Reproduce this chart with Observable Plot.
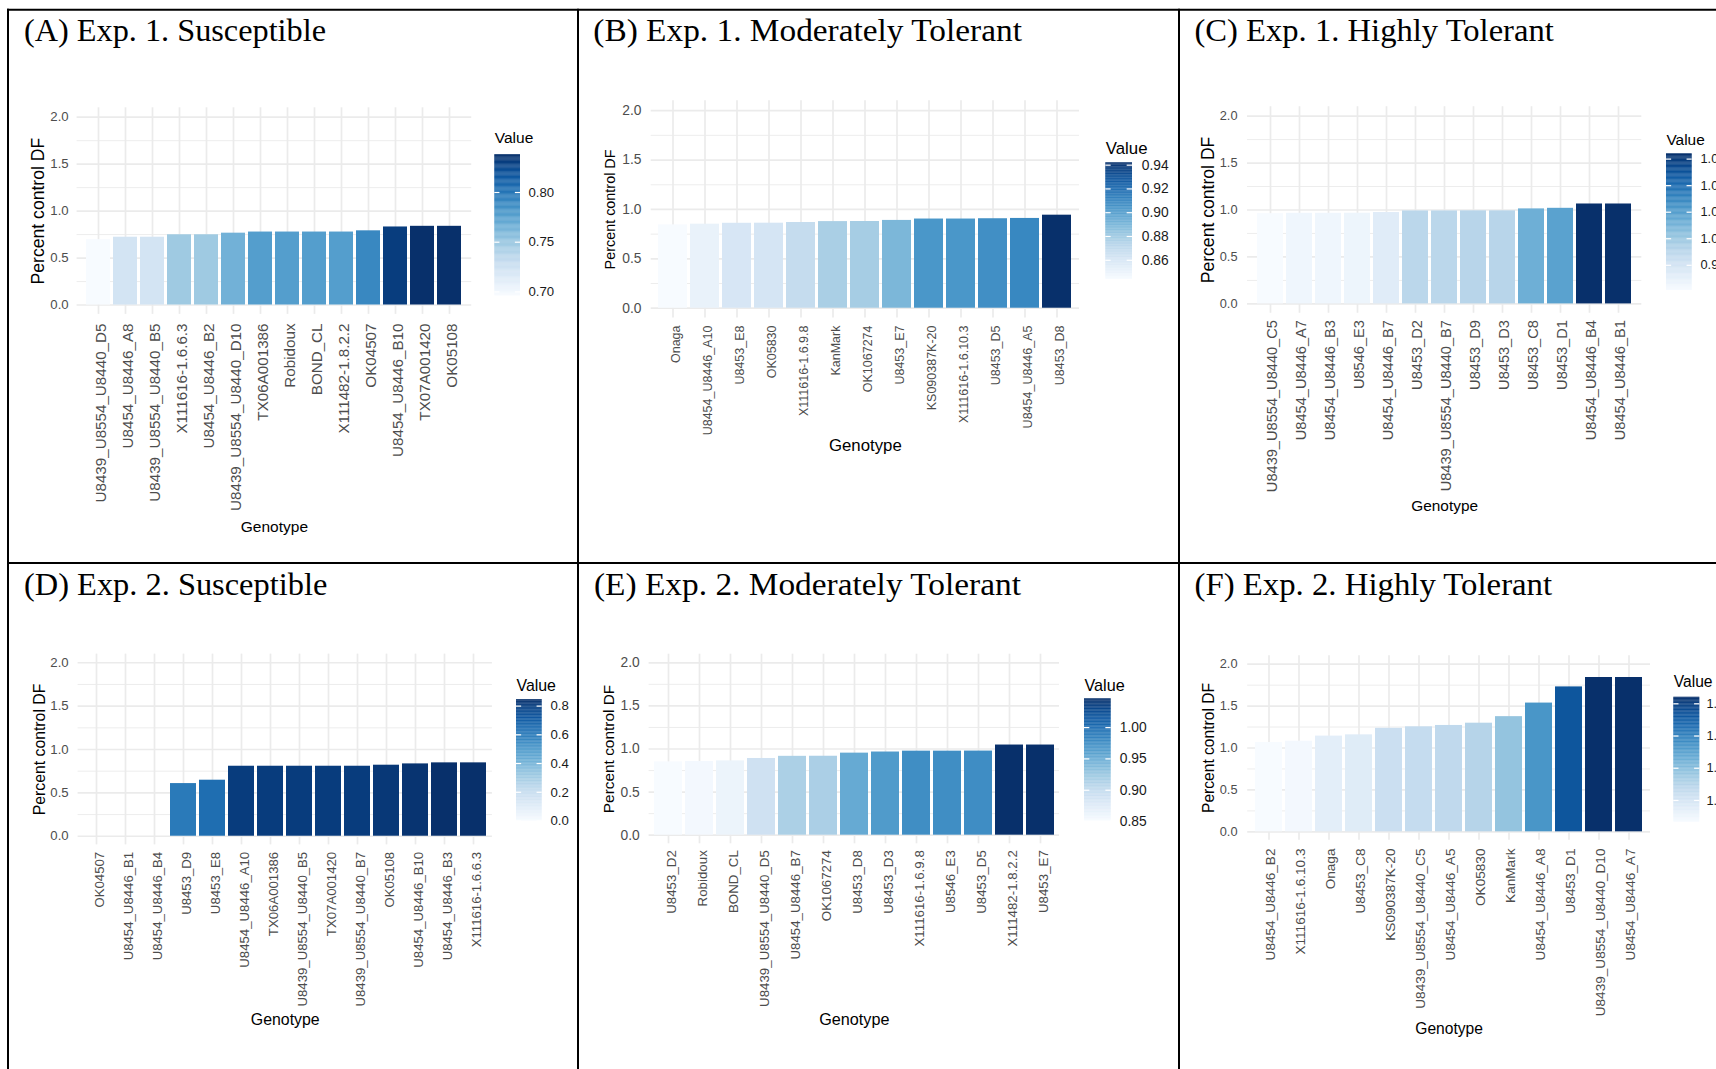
<!DOCTYPE html>
<html>
<head>
<meta charset="utf-8">
<script src="https://cdn.jsdelivr.net/npm/d3@7"></script>
<script src="https://cdn.jsdelivr.net/npm/@observablehq/plot@0.6"></script>
<style>
  html, body { margin: 0; padding: 0; background: #fff; overflow: hidden; }
  #fig { position: relative; width: 1716px; height: 1069px; overflow: hidden; background: #fff; }
  #fig svg { position: absolute; }
</style>
</head>
<body>
<div id="fig"></div>
<script>
// ---- Percent control DF by genotype, six panels ----
const genotypesA = ["U8439_U8554_U8440_D5", "U8454_U8446_A8", "U8439_U8554_U8440_B5", "X111616-1.6.6.3", "U8454_U8446_B2", "U8439_U8554_U8440_D10", "TX06A001386", "Robidoux", "BOND_CL", "X111482-1.8.2.2", "OK04507", "U8454_U8446_B10", "TX07A001420", "OK05108"];
const valuesA = [0.696, 0.722, 0.722, 0.748, 0.748, 0.765, 0.777, 0.777, 0.777, 0.777, 0.790, 0.831, 0.838, 0.838];

const genotypesB = ["Onaga", "U8454_U8446_A10", "U8453_E8", "OK05830", "X111616-1.6.9.8", "KanMark", "OK1067274", "U8453_E7", "KS090387K-20", "X111616-1.6.10.3", "U8453_D5", "U8454_U8446_A5", "U8453_D8"];
const valuesB = [0.844, 0.851, 0.860, 0.861, 0.868, 0.877, 0.878, 0.889, 0.903, 0.903, 0.906, 0.909, 0.942];

const genotypesC = ["U8439_U8554_U8440_C5", "U8454_U8446_A7", "U8454_U8446_B3", "U8546_E3", "U8454_U8446_B7", "U8453_D2", "U8439_U8554_U8440_B7", "U8453_D9", "U8453_D3", "U8453_C8", "U8453_D1", "U8454_U8446_B4", "U8454_U8446_B1"];
const valuesC = [0.961, 0.965, 0.965, 0.966, 0.973, 0.990, 0.990, 0.991, 0.991, 1.012, 1.018, 1.064, 1.064];

const genotypesD = ["OK04507", "U8454_U8446_B1", "U8454_U8446_B4", "U8453_D9", "U8453_E8", "U8454_U8446_A10", "TX06A001386", "U8439_U8554_U8440_B5", "TX07A001420", "U8439_U8554_U8440_B7", "OK05108", "U8454_U8446_B10", "U8454_U8446_B3", "X111616-1.6.6.3"];
const valuesD = [0, 0, 0, 0.607, 0.646, 0.807, 0.807, 0.807, 0.807, 0.807, 0.819, 0.834, 0.846, 0.846];

const genotypesE = ["U8453_D2", "Robidoux", "BOND_CL", "U8439_U8554_U8440_D5", "U8454_U8446_B7", "OK1067274", "U8453_D8", "U8453_D3", "X111616-1.6.9.8", "U8546_E3", "U8453_D5", "X111482-1.8.2.2", "U8453_E7"];
const valuesE = [0.851, 0.855, 0.862, 0.890, 0.915, 0.916, 0.952, 0.965, 0.975, 0.975, 0.976, 1.046, 1.046];

const genotypesF = ["U8454_U8446_B2", "X111616-1.6.10.3", "Onaga", "U8453_C8", "KS090387K-20", "U8439_U8554_U8440_C5", "U8454_U8446_A5", "OK05830", "KanMark", "U8454_U8446_A8", "U8453_D1", "U8439_U8554_U8440_D10", "U8454_U8446_A7"];
const valuesF = [1.065, 1.081, 1.142, 1.157, 1.235, 1.253, 1.269, 1.296, 1.374, 1.536, 1.729, 1.841, 1.841];

// ---- axis ticks and colour-bar breaks ----
const yTicks = [0, 0.5, 1, 1.5, 2];
const yTickLabels = ["0.0", "0.5", "1.0", "1.5", "2.0"];
const yMinor = [0.25, 0.75, 1.25, 1.75];

const legendTicksA = [0.70, 0.75, 0.80];
const legendLabelsA = ["0.70", "0.75", "0.80"];
const legendTicksB = [0.86, 0.88, 0.90, 0.92, 0.94];
const legendLabelsB = ["0.86", "0.88", "0.90", "0.92", "0.94"];
const legendTicksC = [0.98, 1.00, 1.02, 1.04, 1.06];
const legendLabelsC = ["0.98", "1.00", "1.02", "1.04", "1.06"];
const legendTicksD = [0, 0.2, 0.4, 0.6, 0.8];
const legendLabelsD = ["0.0", "0.2", "0.4", "0.6", "0.8"];
const legendTicksE = [0.85, 0.90, 0.95, 1.00];
const legendLabelsE = ["0.85", "0.90", "0.95", "1.00"];
const legendTicksF = [1.2, 1.4, 1.6, 1.8];
const legendLabelsF = ["1.2", "1.4", "1.6", "1.8"];

const panelTitles = ["(A) Exp. 1. Susceptible", "(B) Exp. 1. Moderately Tolerant", "(C) Exp. 1. Highly Tolerant",
                     "(D) Exp. 2. Susceptible", "(E) Exp. 2. Moderately Tolerant", "(F) Exp. 2. Highly Tolerant"];
const yTitle = "Percent control DF";
const xTitle = "Genotype";
const legendTitle = "Value";

// ---- page geometry (px) for each panel ----
// cell: [left, top, width, height]; frame: [x0, x1, top, bottom]
const layout = {
  A: {cell: [9, 11, 568, 551], frame: [76.6, 471.2, 107.3, 313.9], hTick: 13.2, hTitle: 15.5, vTick: 15.2, vTitle: 17.6,
      yTickRight: 68.2, yTitleX: 37.8, xLabTop: 323, xLabDx: 7, genoBase: 531,
      legend: {bar: [494.3, 520, 154.2, 295.4], titleBase: 142.7, labelX: 528},
      title: {x: 24, base: 41.3, w: 302}},
  B: {cell: [579, 11, 599, 551], frame: [650.7, 1079, 100.3, 317.6], hTick: 13.8, hTitle: 16.8, vTick: 12.5, vTitle: 14.4,
      yTickRight: 641, yTitleX: 609.6, xLabTop: 325, xLabDx: 7.3, genoBase: 450.5,
      legend: {bar: [1105.3, 1132, 162.3, 278.8], titleBase: 153.5, labelX: 1141.3},
      title: {x: 593.3, base: 41.3, w: 428.6}},
  C: {cell: [1180, 11, 536, 551], frame: [1247, 1641.3, 106.2, 312.8], hTick: 12.8, hTitle: 15.4, vTick: 14.6, vTitle: 17.6,
      yTickRight: 1237, yTitleX: 1208, xLabTop: 319.6, xLabDx: 6.7, genoBase: 510.5,
      legend: {bar: [1666, 1691.7, 153.3, 290], titleBase: 144.3, labelX: 1700},
      title: {x: 1194.5, base: 41.3, w: 359.3}},
  D: {cell: [9, 564, 568, 505], frame: [77.6, 491.9, 653.6, 844.4], hTick: 13.2, hTitle: 15.9, vTick: 13.2, vTitle: 15.8,
      yTickRight: 68.2, yTitleX: 39.6, xLabTop: 851.3, xLabDx: 7.6, genoBase: 1024.7,
      legend: {bar: [516, 541.7, 699, 820.5], titleBase: 690, labelX: 550},
      title: {x: 24, base: 594.7, w: 303.3}},
  E: {cell: [579, 564, 599, 505], frame: [648.6, 1059, 653.7, 843.3], hTick: 13.8, hTitle: 16.2, vTick: 13.3, vTitle: 15.4,
      yTickRight: 639.2, yTitleX: 609, xLabTop: 849.7, xLabDx: 7.6, genoBase: 1024.7,
      legend: {bar: [1084, 1110.7, 698.3, 820.4], titleBase: 690, labelX: 1119.3},
      title: {x: 594, base: 594.7, w: 427}},
  F: {cell: [1180, 564, 536, 505], frame: [1247.2, 1650, 655.3, 839.7], hTick: 12.8, hTitle: 15.6, vTick: 13.6, vTitle: 15.6,
      yTickRight: 1237, yTitleX: 1208, xLabTop: 848, xLabDx: 6, genoBase: 1033,
      legend: {bar: [1673.3, 1699.3, 696.7, 821.7], titleBase: 686.7, labelX: 1706},
      title: {x: 1194.5, base: 594.7, w: 357.6}}
};

const panels = [
  {key: "A", genotypes: genotypesA, values: valuesA, ticks: legendTicksA, labels: legendLabelsA},
  {key: "B", genotypes: genotypesB, values: valuesB, ticks: legendTicksB, labels: legendLabelsB},
  {key: "C", genotypes: genotypesC, values: valuesC, ticks: legendTicksC, labels: legendLabelsC},
  {key: "D", genotypes: genotypesD, values: valuesD, ticks: legendTicksD, labels: legendLabelsD},
  {key: "E", genotypes: genotypesE, values: valuesE, ticks: legendTicksE, labels: legendLabelsE},
  {key: "F", genotypes: genotypesF, values: valuesF, ticks: legendTicksF, labels: legendLabelsF}
];

const FONT = "'Liberation Sans', Arial, sans-serif";
const GRID = "#ebebeb";
const AXIS_TEXT = "#4d4d4d";
const fig = document.getElementById("fig");

function place(svg, cell) {
  svg.style.left = cell[0] + "px";
  svg.style.top = cell[1] + "px";
  fig.appendChild(svg);
}

// Bar chart of one panel: grid, filled bars, rotated genotype labels, axis titles
function drawPanel(p) {
  const L = layout[p.key];
  const [cx, cy, cw, ch] = L.cell;
  const [fx0, fx1, fTop, fBot] = L.frame;
  const rows = p.genotypes.map((g, i) => ({genotype: g, value: p.values[i]}));
  const chart = Plot.plot({
    width: cw, height: ch,
    marginLeft: fx0 - cx, marginRight: cx + cw - fx1,
    marginTop: fTop - cy, marginBottom: cy + ch - fBot,
    style: {background: "transparent", fontFamily: FONT, overflow: "hidden"},
    x: {type: "band", domain: p.genotypes, paddingInner: 0.1, paddingOuter: 0.15, axis: null},
    y: {domain: [-0.1, 2.1], axis: null},
    color: {type: "linear", scheme: "blues", domain: d3.extent(p.values)},
    marks: [
      Plot.ruleY(yMinor, {y: d => d, stroke: GRID, strokeWidth: 0.9}),
      Plot.ruleY(yTicks, {y: d => d, stroke: GRID, strokeWidth: 1.7}),
      Plot.ruleX(p.genotypes, {x: d => d, stroke: GRID, strokeWidth: 1.7}),
      Plot.barY(rows, {x: "genotype", y: "value", fill: "value", insetLeft: 0, insetRight: 0}),
      Plot.text(yTicks, {y: d => d, text: (d, i) => yTickLabels[i], frameAnchor: "left", textAnchor: "end",
        dx: L.yTickRight - fx0, fontSize: L.hTick, fill: AXIS_TEXT}),
      Plot.text(p.genotypes, {x: d => d, text: d => d, frameAnchor: "bottom", rotate: -90, textAnchor: "end",
        dy: L.xLabTop - fBot, dx: L.xLabDx, fontSize: L.vTick, fill: AXIS_TEXT}),
      Plot.text([yTitle], {text: d => d, frameAnchor: "left", textAnchor: "middle", rotate: -90, dx: L.yTitleX - fx0,
        fontSize: L.vTitle, fill: "black"}),
      Plot.text([xTitle], {text: d => d, frameAnchor: "bottom", textAnchor: "middle", lineAnchor: "bottom", dy: L.genoBase - fBot,
        fontSize: L.hTitle, fill: "black"})
    ]
  });
  place(chart, L.cell);
}

// Vertical colour bar with white break marks and labels
function drawLegend(p) {
  const L = layout[p.key];
  const g = L.legend;
  const [cx, cy, cw, ch] = L.cell;
  const [lo, hi] = d3.extent(p.values);
  const n = 160;
  const slices = d3.range(n).map(i => [lo + (hi - lo) * i / n, lo + (hi - lo) * Math.min(n, i + 1.3) / n]);
  const leg = Plot.plot({
    width: cw, height: ch, margin: 0,
    style: {background: "transparent", fontFamily: FONT, overflow: "hidden"},
    x: {domain: [0, 1], range: [g.bar[0] - cx, g.bar[1] - cx], axis: null},
    y: {domain: [lo, hi], range: [g.bar[3] - cy, g.bar[2] - cy], axis: null},
    color: {type: "linear", scheme: "blues", domain: [lo, hi]},
    marks: [
      Plot.rect(slices, {x1: 0, x2: 1, y1: d => d[0], y2: d => d[1], fill: d => (d[0] + d[1]) / 2}),
      Plot.ruleY(p.ticks, {y: d => d, x1: 0, x2: 0.2, stroke: "white", strokeWidth: 1.2}),
      Plot.ruleY(p.ticks, {y: d => d, x1: 0.8, x2: 1, stroke: "white", strokeWidth: 1.2}),
      Plot.text(p.ticks, {x: 1, y: d => d, text: (d, i) => p.labels[i], textAnchor: "start",
        dx: g.labelX - g.bar[1], fontSize: L.hTick, fill: "#1a1a1a"}),
      Plot.text([legendTitle], {x: 0, y: hi, text: d => d, textAnchor: "start", lineAnchor: "bottom",
        dy: g.titleBase - g.bar[2], fontSize: L.hTitle, fill: "black"})
    ]
  });
  place(leg, L.cell);
}

panels.forEach(p => { drawPanel(p); drawLegend(p); });

// Table rules and panel headings drawn on top
const overlay = d3.create("svg")
  .attr("width", 1716).attr("height", 1069)
  .style("left", "0px").style("top", "0px").style("pointer-events", "none");
const rules = [[7, 9.7, 1716, 9.7], [7, 563, 1716, 563], [8, 8.7, 8, 1069], [578, 8.7, 578, 1069], [1179, 8.7, 1179, 1069]];
overlay.selectAll("line").data(rules).join("line")
  .attr("x1", d => d[0]).attr("y1", d => d[1]).attr("x2", d => d[2]).attr("y2", d => d[3])
  .attr("stroke", "black").attr("stroke-width", 2);
overlay.selectAll("text").data(panels).join("text")
  .attr("x", p => layout[p.key].title.x)
  .attr("y", p => layout[p.key].title.base)
  .attr("textLength", p => layout[p.key].title.w)
  .attr("lengthAdjust", "spacingAndGlyphs")
  .attr("font-family", "'Liberation Serif', 'Times New Roman', serif")
  .attr("font-size", 32)
  .attr("fill", "black")
  .text((p, i) => panelTitles[i]);
fig.appendChild(overlay.node());
</script>
</body>
</html>
